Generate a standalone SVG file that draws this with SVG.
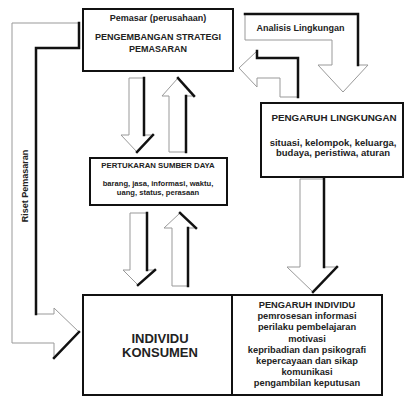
<svg xmlns="http://www.w3.org/2000/svg" width="405" height="396" viewBox="0 0 405 396">
<style>
text{font-family:"Liberation Sans",Arial,sans-serif;font-weight:bold;fill:#222;text-anchor:middle}
.box{fill:#fff;stroke:#111;stroke-width:2}
.arr{fill:#fff;stroke:#999;stroke-width:1;stroke-linejoin:miter}
.shd{fill:none;stroke:#111;stroke-width:2.5;stroke-linejoin:miter;stroke-linecap:square}
</style>
<rect width="405" height="396" fill="#fff"/>
<g id="connectors">
  <g id="riset">
    <polygon class="arr" points="12,23 79,23 79,48 36,48 36,314 54,314 54,308 79,332 54,358 54,343 12,343"/>
    <polyline class="shd" points="79,23 79,48 36,48 36,314"/>
    <polyline class="shd" points="79,332 54,358"/>
    <text x="27.5" y="186" font-size="9" transform="rotate(-90 27.5 186)">Riset Pemasaran</text>
  </g>
  <g id="analisis">
    <polygon class="arr" points="245,14 358,14 358,65 368,65 343,92 318,65 332,65 332,40 245,40"/>
    <polyline class="shd" points="245,14 358,14 358,65"/>
    <text x="300.5" y="31" font-size="9">Analisis Lingkungan</text>
  </g>
  <g id="lingkungan-ke-pemasar">
    <polygon class="arr" points="239,68 257,51 257,58 298,58 298,97 280,97 280,78 257,78 257,87"/>
    <polyline class="shd" points="257,51 257,58 298,58 298,97"/>
  </g>
  <g id="down1">
    <polygon class="arr" points="129,78 144,78 144,135 153,135 137,152 121,135 129,135"/>
    <polyline class="shd" points="144,78 144,135"/>
    <polyline class="shd" points="153,135 137,152"/>
  </g>
  <g id="up1">
    <polygon class="arr" points="178,78 194,96 186,96 186,152 169,152 169,96 162,96"/>
    <polyline class="shd" points="178,78 194,96"/>
    <polyline class="shd" points="186,96 186,152"/>
  </g>
  <g id="down2">
    <polygon class="arr" points="130,213 147,213 147,270 155,270 138,285 123,270 130,270"/>
    <polyline class="shd" points="147,213 147,270"/>
    <polyline class="shd" points="155,270 138,285"/>
  </g>
  <g id="up2">
    <polygon class="arr" points="180,213 196,228 188,228 188,286 172,286 172,228 164,228"/>
    <polyline class="shd" points="180,213 196,228"/>
    <polyline class="shd" points="188,228 188,286"/>
  </g>
  <g id="down-big">
    <polygon class="arr" points="300,179 324,179 324,267 337,267 313,292 287,267 300,267"/>
    <polyline class="shd" points="324,179 324,267"/>
    <polyline class="shd" points="337,267 313,292"/>
  </g>
</g>
<g id="pemasar">
  <rect class="box" x="83" y="9" width="150" height="62"/>
  <text x="158" y="20.5" font-size="9">Pemasar (perusahaan)</text>
  <text x="158" y="39.5" font-size="9">PENGEMBANGAN STRATEGI</text>
  <text x="158" y="51.5" font-size="9">PEMASARAN</text>
</g>
<g id="pengaruh-lingkungan">
  <rect class="box" x="261" y="103" width="142" height="74"/>
  <text x="334" y="120.5" font-size="9.8">PENGARUH LINGKUNGAN</text>
  <text x="333" y="145.5" font-size="9.5">situasi, kelompok, keluarga,</text>
  <text x="333" y="155.5" font-size="9.5">budaya, peristiwa, aturan</text>
</g>
<g id="pertukaran">
  <rect class="box" x="90" y="158" width="137" height="47"/>
  <text x="158" y="168" font-size="7.8">PERTUKARAN SUMBER DAYA</text>
  <text x="158" y="186" font-size="7.6">barang, jasa, informasi, waktu,</text>
  <text x="158" y="195" font-size="7.6">uang, status, perasaan</text>
</g>
<g id="individu-konsumen">
  <rect class="box" x="83" y="295" width="149" height="100"/>
  <text x="160" y="342.5" font-size="13">INDIVIDU</text>
  <text x="160" y="356.5" font-size="13">KONSUMEN</text>
</g>
<g id="pengaruh-individu">
  <rect class="box" x="232" y="295" width="150" height="100"/>
  <text x="307" y="307.5" font-size="9.3">PENGARUH INDIVIDU</text>
  <text x="307" y="318.5" font-size="9.3">pemrosesan informasi</text>
  <text x="307" y="329.5" font-size="9.3">perilaku pembelajaran</text>
  <text x="307" y="341.5" font-size="9.3">motivasi</text>
  <text x="307" y="353" font-size="9.3">kepribadian dan psikografi</text>
  <text x="307" y="364" font-size="9.3">kepercayaan dan sikap</text>
  <text x="307" y="374.5" font-size="9.3">komunikasi</text>
  <text x="307" y="385.5" font-size="9.3">pengambilan keputusan</text>
</g>
</svg>
